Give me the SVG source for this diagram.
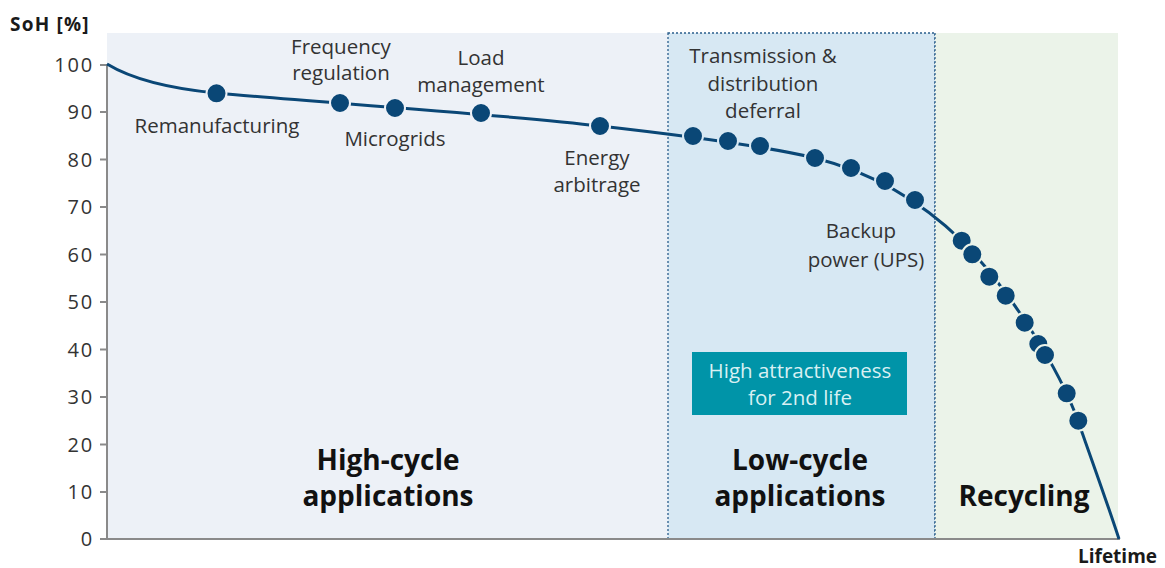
<svg xmlns="http://www.w3.org/2000/svg" width="1165" height="568" viewBox="0 0 1165 568">
  <style>
    .lbl { font-family: "Open Sans", "Liberation Sans", sans-serif; font-size: 20.5px; fill: #333333; text-anchor: middle; }
    .tick { font-family: "Open Sans", "Liberation Sans", sans-serif; font-size: 20px; letter-spacing: 1.8px; fill: #333333; text-anchor: end; }
    .ax { font-family: "Open Sans", "Liberation Sans", sans-serif; font-size: 19px; font-weight: bold; fill: #1a1a1a; }
    .zone { font-family: "Open Sans", "Liberation Sans", sans-serif; font-size: 28px; font-weight: bold; fill: #111111; text-anchor: middle; }
    .note { font-family: "Open Sans", "Liberation Sans", sans-serif; font-size: 20.5px; fill: #d8f0f3; text-anchor: middle; }
    .axis { stroke: #8a8a8a; stroke-width: 2; fill: none; }
    .curve { stroke: #0a4776; stroke-width: 3; fill: none; }
    .dot { fill: #0a4776; stroke-width: 2; }
    .d1 { stroke: #edf1f7; }
    .d2 { stroke: #d7e8f3; }
    .d3 { stroke: #ebf3e9; }
  </style>

  <!-- background zones -->
  <g id="zone-high-cycle">
    <rect x="107" y="33" width="561" height="506" fill="#edf1f7"/>
    <text class="zone" x="388" y="470">High-cycle</text>
    <text class="zone" x="388" y="506">applications</text>
  </g>
  <g id="zone-low-cycle">
    <rect x="668" y="33" width="267" height="506" fill="#d7e8f3" stroke="#2a5d8c" stroke-width="1.3" stroke-dasharray="2 2"/>
    <text class="zone" x="800" y="470">Low-cycle</text>
    <text class="zone" x="800" y="506">applications</text>
  </g>
  <g id="zone-recycling">
    <rect x="935" y="33" width="183" height="506" fill="#ebf3e9"/>
    <line x1="935" y1="33" x2="935" y2="539" stroke="#2a5d8c" stroke-width="1.3" stroke-dasharray="2 2"/>
    <text class="zone" x="1024" y="506">Recycling</text>
  </g>

  <!-- second-life note -->
  <g id="note-second-life">
    <rect x="692" y="352" width="215" height="63" fill="#0094a8"/>
    <text class="note" x="800" y="378">High attractiveness</text>
    <text class="note" x="800" y="405">for 2nd life</text>
  </g>

  <!-- axes -->
  <g id="axes">
    <line class="axis" x1="107" y1="64" x2="107" y2="540"/>
    <line class="axis" x1="100" y1="539" x2="1120" y2="539"/>
    <g class="axis">
      <line x1="100" y1="65" x2="107" y2="65"/>
      <line x1="100" y1="112" x2="107" y2="112"/>
      <line x1="100" y1="159.5" x2="107" y2="159.5"/>
      <line x1="100" y1="207" x2="107" y2="207"/>
      <line x1="100" y1="254.5" x2="107" y2="254.5"/>
      <line x1="100" y1="302" x2="107" y2="302"/>
      <line x1="100" y1="349.5" x2="107" y2="349.5"/>
      <line x1="100" y1="397" x2="107" y2="397"/>
      <line x1="100" y1="444.5" x2="107" y2="444.5"/>
      <line x1="100" y1="492" x2="107" y2="492"/>
    </g>
    <text class="tick" x="94" y="72">100</text>
    <text class="tick" x="94" y="119">90</text>
    <text class="tick" x="94" y="166.5">80</text>
    <text class="tick" x="94" y="214">70</text>
    <text class="tick" x="94" y="261.5">60</text>
    <text class="tick" x="94" y="309">50</text>
    <text class="tick" x="94" y="356.5">40</text>
    <text class="tick" x="94" y="404">30</text>
    <text class="tick" x="94" y="451.5">20</text>
    <text class="tick" x="94" y="499">10</text>
    <text class="tick" x="94" y="546">0</text>
    <text class="ax" x="10" y="31" letter-spacing="1.2">SoH [%]</text>
    <text class="ax" x="1078" y="562.5" font-size="18">Lifetime</text>
  </g>

  <!-- state-of-health curve -->
  <g id="connectors">
    <path class="curve" d="M107,64 C135,81 175,89 216,93 C300,101 500,114 600,126 C680,135 760,145 815,158 C870,172 920,200 962,241 C1010,290 1060,370 1078,421 C1090,455 1108,505 1119,539"/>
  </g>

  <!-- application points -->
  <g id="app-remanufacturing">
    <circle class="dot d1" cx="216.5" cy="93.3" r="10"/>
    <text class="lbl" x="217" y="133">Remanufacturing</text>
  </g>
  <g id="app-frequency-regulation">
    <circle class="dot d1" cx="340" cy="103" r="10"/>
    <text class="lbl" x="341" y="54">Frequency</text>
    <text class="lbl" x="341" y="80">regulation</text>
  </g>
  <g id="app-microgrids">
    <circle class="dot d1" cx="395" cy="108" r="10"/>
    <text class="lbl" x="395" y="146">Microgrids</text>
  </g>
  <g id="app-load-management">
    <circle class="dot d1" cx="481" cy="113" r="10"/>
    <text class="lbl" x="481" y="65">Load</text>
    <text class="lbl" x="481" y="92">management</text>
  </g>
  <g id="app-energy-arbitrage">
    <circle class="dot d1" cx="600" cy="126" r="10"/>
    <text class="lbl" x="597" y="165">Energy</text>
    <text class="lbl" x="597" y="192">arbitrage</text>
  </g>
  <g id="app-td-deferral">
    <circle class="dot d2" cx="693" cy="136" r="10"/>
    <circle class="dot d2" cx="728" cy="141" r="10"/>
    <circle class="dot d2" cx="760" cy="146" r="10"/>
    <text class="lbl" x="763" y="63">Transmission &amp;</text>
    <text class="lbl" x="763" y="91">distribution</text>
    <text class="lbl" x="763" y="118">deferral</text>
  </g>
  <g id="app-backup-power">
    <circle class="dot d2" cx="815" cy="158" r="10"/>
    <circle class="dot d2" cx="851" cy="168" r="10"/>
    <circle class="dot d2" cx="885" cy="181" r="10"/>
    <circle class="dot d2" cx="915" cy="200" r="10"/>
    <text class="lbl" x="861" y="238">Backup</text>
    <text class="lbl" x="866" y="267">power (UPS)</text>
  </g>
  <g id="recycling-points">
    <circle class="dot d3" cx="961.7" cy="240.7" r="10"/>
    <circle class="dot d3" cx="972.3" cy="254.3" r="10"/>
    <circle class="dot d3" cx="989.3" cy="276.7" r="10"/>
    <circle class="dot d3" cx="1005.7" cy="295.7" r="10"/>
    <circle class="dot d3" cx="1024.7" cy="322.7" r="10"/>
    <circle class="dot d3" cx="1038.3" cy="344" r="10"/>
    <circle class="dot d3" cx="1045" cy="355" r="10"/>
    <circle class="dot d3" cx="1066.7" cy="393.3" r="10"/>
    <circle class="dot d3" cx="1078.3" cy="420.7" r="10"/>
  </g>
</svg>
